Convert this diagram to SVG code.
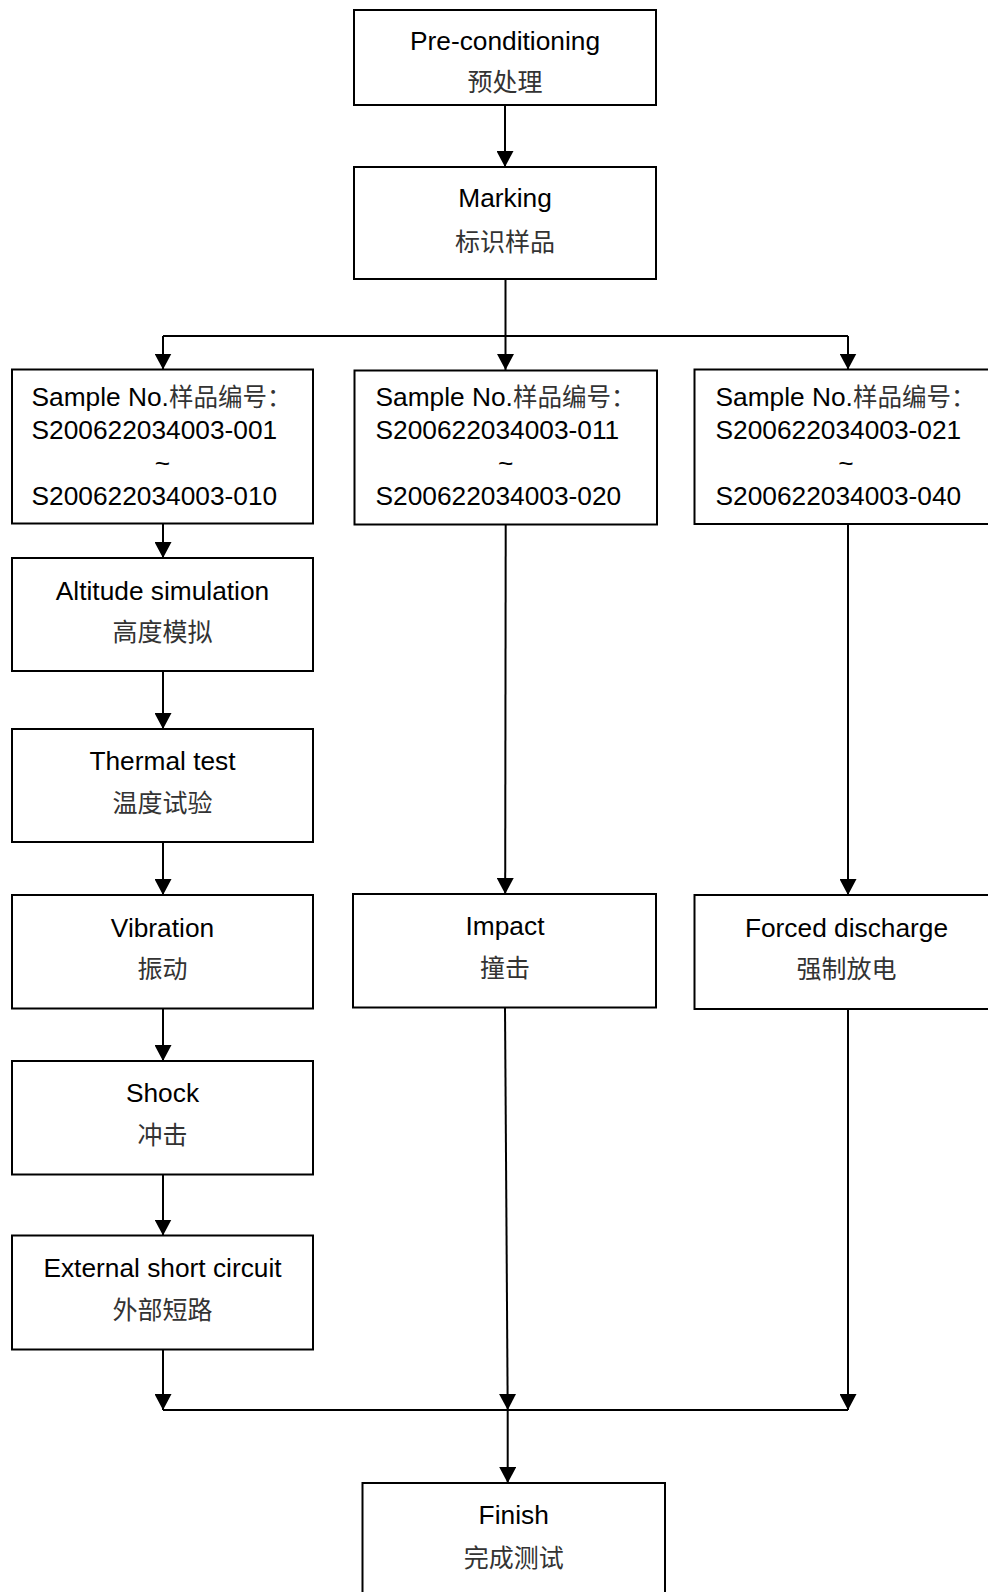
<svg xmlns="http://www.w3.org/2000/svg" width="988" height="1592" viewBox="0 0 988 1592">
<style>
.box{fill:#fff;stroke:#000;stroke-width:2}
.en{font-family:"Liberation Sans","Noto Sans CJK SC",Arial,sans-serif;font-size:26.3px;fill:#000}
.cn{font-family:"Noto Sans CJK SC","Liberation Sans",sans-serif;font-size:25px;fill:#333}
.cs{font-family:"Noto Sans CJK SC",sans-serif;font-size:24.5px;fill:#333}
.c{text-anchor:middle}
.ln{stroke:#000;stroke-width:2;fill:none}
</style>
<defs>
<marker id="ah" markerUnits="userSpaceOnUse" markerWidth="17" markerHeight="17" refX="16" refY="8.5" orient="auto">
<path d="M0,0 L16,8.5 L0,17 Z" fill="#000"/>
</marker>
</defs>
<g id="connectors">
<line class="ln" x1="505" y1="105" x2="505" y2="167" marker-end="url(#ah)"/>
<line class="ln" x1="505.5" y1="279" x2="505.5" y2="370" marker-end="url(#ah)"/>
<line class="ln" x1="163" y1="336" x2="848" y2="336"/>
<line class="ln" x1="163" y1="336" x2="163" y2="369.5" marker-end="url(#ah)"/>
<line class="ln" x1="848" y1="336" x2="848" y2="369.5" marker-end="url(#ah)"/>
<line class="ln" x1="163" y1="523.5" x2="163" y2="558" marker-end="url(#ah)"/>
<line class="ln" x1="163" y1="671" x2="163" y2="729" marker-end="url(#ah)"/>
<line class="ln" x1="163" y1="842" x2="163" y2="895" marker-end="url(#ah)"/>
<line class="ln" x1="163" y1="1008.5" x2="163" y2="1061" marker-end="url(#ah)"/>
<line class="ln" x1="163" y1="1174.5" x2="163" y2="1235.5" marker-end="url(#ah)"/>
<line class="ln" x1="505.7" y1="524.5" x2="505.2" y2="894" marker-end="url(#ah)"/>
<line class="ln" x1="848" y1="524" x2="848" y2="895" marker-end="url(#ah)"/>
<line class="ln" x1="163" y1="1349.5" x2="163" y2="1410" marker-end="url(#ah)"/>
<line class="ln" x1="505" y1="1007.5" x2="507.7" y2="1410" marker-end="url(#ah)"/>
<line class="ln" x1="848" y1="1009" x2="848" y2="1410" marker-end="url(#ah)"/>
<line class="ln" x1="163" y1="1410" x2="848" y2="1410"/>
<line class="ln" x1="507.7" y1="1410" x2="507.7" y2="1483" marker-end="url(#ah)"/>
</g>
<g id="n-pre">
<rect class="box" x="354" y="10" width="302" height="95"/>
<text class="en c" x="505" y="50">Pre-conditioning</text>
<text class="cn c" x="505" y="91">预处理</text>
</g>
<g id="n-marking">
<rect class="box" x="354" y="167" width="302" height="112"/>
<text class="en c" x="505" y="207">Marking</text>
<text class="cn c" x="505" y="251">标识样品</text>
</g>
<g id="n-s1">
<rect class="box" x="12" y="369.5" width="301" height="154"/>
<text class="en" x="31.5" y="406">Sample No.<tspan class="cs">样品编号：</tspan></text>
<text class="en" x="31.5" y="439">S200622034003-001</text>
<text class="en c" x="162.5" y="472">~</text>
<text class="en" x="31.5" y="505">S200622034003-010</text>
</g>
<g id="n-s2">
<rect class="box" x="354.5" y="370.5" width="302.5" height="154"/>
<text class="en" x="375.5" y="406">Sample No.<tspan class="cs">样品编号：</tspan></text>
<text class="en" x="375.5" y="439">S200622034003-011</text>
<text class="en c" x="505.7" y="472">~</text>
<text class="en" x="375.5" y="505">S200622034003-020</text>
</g>
<g id="n-s3">
<rect class="box" x="694.5" y="369.5" width="302" height="154.5"/>
<text class="en" x="715.5" y="406">Sample No.<tspan class="cs">样品编号：</tspan></text>
<text class="en" x="715.5" y="439">S200622034003-021</text>
<text class="en c" x="846" y="472">~</text>
<text class="en" x="715.5" y="505">S200622034003-040</text>
</g>
<g id="n-altitude">
<rect class="box" x="12" y="558" width="301" height="113"/>
<text class="en c" x="162.5" y="599.5">Altitude simulation</text>
<text class="cn c" x="162.5" y="641">高度模拟</text>
</g>
<g id="n-thermal">
<rect class="box" x="12" y="729" width="301" height="113"/>
<text class="en c" x="162.5" y="770">Thermal test</text>
<text class="cn c" x="162.5" y="812">温度试验</text>
</g>
<g id="n-vibration">
<rect class="box" x="12" y="895" width="301" height="113.5"/>
<text class="en c" x="162.5" y="936.5">Vibration</text>
<text class="cn c" x="162.5" y="978">振动</text>
</g>
<g id="n-shock">
<rect class="box" x="12" y="1061" width="301" height="113.5"/>
<text class="en c" x="162.5" y="1102">Shock</text>
<text class="cn c" x="162.5" y="1144">冲击</text>
</g>
<g id="n-external">
<rect class="box" x="12" y="1235.5" width="301" height="114"/>
<text class="en c" x="162.5" y="1276.5">External short circuit</text>
<text class="cn c" x="162.5" y="1318.5">外部短路</text>
</g>
<g id="n-impact">
<rect class="box" x="353" y="894" width="303" height="113.5"/>
<text class="en c" x="505" y="934.5">Impact</text>
<text class="cn c" x="505" y="976.5">撞击</text>
</g>
<g id="n-forced">
<rect class="box" x="694.5" y="895" width="302" height="114"/>
<text class="en c" x="846.5" y="936.5">Forced discharge</text>
<text class="cn c" x="846.5" y="978">强制放电</text>
</g>
<g id="n-finish">
<rect class="box" x="362.5" y="1483" width="302.5" height="130"/>
<text class="en c" x="513.7" y="1524">Finish</text>
<text class="cn c" x="513.7" y="1567">完成测试</text>
</g>
</svg>
